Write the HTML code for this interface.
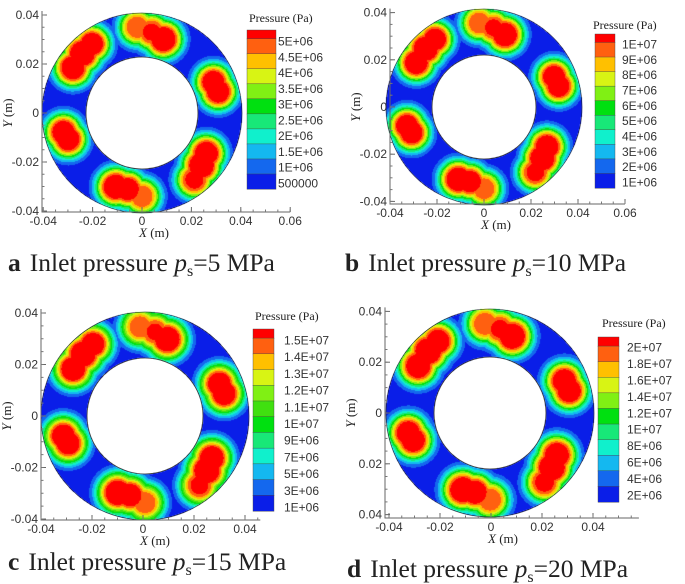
<!DOCTYPE html>
<html><head><meta charset="utf-8">
<style>
html,body{margin:0;padding:0;background:#fff;}
#root{position:relative;width:685px;height:584px;overflow:hidden;}
canvas{position:absolute;}
svg{position:absolute;left:0;top:0;}
.t{font-family:"Liberation Sans",Arial,sans-serif;font-size:12px;fill:#333;}
.s{font-family:"Liberation Serif",serif;fill:#222;}
</style></head>
<body>
<div id="root">
<svg id="ov" width="685" height="584"></svg>
</div>
<script>
// ---- data ----
const padX = [-0.029,-0.025,-0.021,-0.002,0.004,0.009,0.032,0.030,0.027,0.025,0.022,-0.011,-0.006,0.000,-0.033,-0.031];
const padY = [0.019,0.025,0.029,0.036,0.034,0.031,0.009,0.013,-0.017,-0.022,-0.028,-0.031,-0.032,-0.035,-0.008,-0.011];
const padR = [0.0032,0.0035,0.0030,0.0030,0.0030,0.0034,0.0030,0.0030,0.0032,0.0035,0.0030,0.0034,0.0030,0.0030,0.0030,0.0030];
const padA = [1.0,1.0,1.0,0.88,0.92,1.0,1.0,1.0,1.0,1.0,0.93,1.0,1.0,0.88,1.0,1.0];
const labelsA = ['5E+06','4.5E+06','4E+06','3.5E+06','3E+06','2.5E+06','2E+06','1.5E+06','1E+06','500000'];
const labelsB = ['1E+07','9E+06','8E+06','7E+06','6E+06','5E+06','4E+06','3E+06','2E+06','1E+06'];
const labelsC = ['1.5E+07','1.4E+07','1.3E+07','1.2E+07','1.1E+07','1E+07','9E+06','7E+06','5E+06','3E+06','1E+06'];
const labelsD = ['2E+07','1.8E+07','1.6E+07','1.4E+07','1.2E+07','1E+07','8E+06','6E+06','4E+06','2E+06'];
const colors11 = ['#0a1ee8','#1468ee','#14b8f0','#10f0cc','#18e878','#00e010','#80f014','#d8f414','#ffc000','#ff6010','#ff0000'];
const colors12 = ['#0a1ee8','#1468ee','#14b8f0','#10f0cc','#18e878','#00e010','#40e010','#80f014','#d8f414','#ffc000','#ff6010','#ff0000'];
const xTicksAB = [-0.04,-0.02,0,0.02,0.04,0.06];
const xTicksCD = [-0.04,-0.02,0,0.02,0.04];
const yTicks = [0.04,0.02,0,-0.02,-0.04];

const panels = [
 {id:'a',cx:142,cy:113,Ro:100,Ri:56,axL:42,axB:212,x0:142,xs:2470,y0:113,ys:2450,xMax:0.06,xTicks:xTicksAB,ylab:['0.04','0.02','0','-0.02','-0.04'],
  legL:247,legT:30,legW:29,legB:189,labX:278,lab1:41,labN:183,labels:labelsA,colors:colors11,titleX:249,titleY:22,
  cap:'a',capX:8,capY:271,cap2:'=5 MPa',ampScale:1},
 {id:'b',cx:484,cy:107,Ro:98,Ri:52,axL:390,axB:204,x0:484,xs:2350,y0:107,ys:2360,xMax:0.06,xTicks:xTicksAB,ylab:['0.04','0.02','0','-0.02','-0.04'],
  legL:595,legT:34,legW:20,legB:188,labX:622,lab1:44,labN:182,labels:labelsB,colors:colors11,titleX:593,titleY:29,
  cap:'b',capX:345,capY:271,cap2:'=10 MPa',ampScale:1},
 {id:'c',cx:145,cy:416,Ro:104,Ri:58,axL:41,axB:520,x0:143,xs:2550,y0:416,ys:2575,xMax:0.046,xTicks:xTicksCD,ylab:['0.04','0.02','0','-0.02','-0.04'],
  legL:253,legT:329,legW:21,legB:511,labX:284,lab1:340,labN:507,labels:labelsC,colors:colors12,titleX:255,titleY:320,
  cap:'c',capX:8,capY:570,cap2:'=15 MPa',ampScale:1},
 {id:'d',cx:490,cy:413,Ro:104,Ri:56,axL:385,axB:518,x0:491,xs:2550,y0:413,ys:2540,xMax:0.058,xTicks:xTicksCD,ylab:['0.04','0.02','0','0.02','0.04'],
  legL:598,legT:337,legW:21,legB:502,labX:627,lab1:347,labN:495,labels:labelsD,colors:colors11,titleX:602,titleY:327,
  cap:'d',capX:347,capY:577,cap2:'=20 MPa',ampScale:1}
];

const NS='http://www.w3.org/2000/svg';
const ov=document.getElementById('ov');
const root=document.getElementById('root');
function mk(tag,attrs,parent){const e=document.createElementNS(NS,tag);for(const k in attrs)e.setAttribute(k,attrs[k]);(parent||ov).appendChild(e);return e;}

function field(xm,ym){
  let p=0.03, halo=0;
  for(let i=0;i<padX.length;i++){
    const d=Math.hypot(xm-padX[i],ym-padY[i]);
    const e=Math.max(0,d-padR[i]);
    const q=e/0.0052;
    const g=padA[i]*Math.exp(-q*q);
    if(g>p)p=g;
    halo=Math.max(halo,0.13*Math.exp(-(d/0.011)*(d/0.011)));
  }
  return Math.max(p,0.03+halo);
}

panels.forEach(P=>{
  const n=P.colors.length;
  const cv=document.createElement('canvas');
  
  
  const size=2*P.Ro+2;
  cv.width=size;cv.height=size;
  cv.style.left=(P.cx-P.Ro-1)+'px';cv.style.top=(P.cy-P.Ro-1)+'px';
  root.insertBefore(cv,ov);
  const ctx=cv.getContext('2d');
  const img=ctx.createImageData(size,size);
  const rgb=P.colors.map(c=>[parseInt(c.substr(1,2),16),parseInt(c.substr(3,2),16),parseInt(c.substr(5,2),16)]);
  const scale=P.Ro/0.042;
  for(let j=0;j<size;j++)for(let i=0;i<size;i++){
    const dx=i-P.Ro-1+0.5, dy=j-P.Ro-1+0.5;
    const r=Math.hypot(dx,dy);
    if(r>P.Ro||r<P.Ri)continue;
    const p=field(dx/scale,-dy/scale)*P.ampScale;
    const k=Math.min(n-1,Math.floor(p*n));
    const o=(j*size+i)*4;
    img.data[o]=rgb[k][0];img.data[o+1]=rgb[k][1];img.data[o+2]=rgb[k][2];img.data[o+3]=255;
  }
  ctx.putImageData(img,0,0);
  const g=mk('g',{});
  
  
  mk('circle',{cx:P.cx,cy:P.cy,r:P.Ri,fill:'none',stroke:'#333','stroke-width':0.8},g);
  mk('circle',{cx:P.cx,cy:P.cy,r:P.Ro,fill:'none',stroke:'#223','stroke-width':0.6},g);
  const X=v=>P.x0+v*P.xs, Y=v=>P.y0-v*P.ys;
  const yTop=Y(0.04)-4;
  const ax=mk('path',{d:`M${P.axL},${yTop}V${P.axB}H${X(P.xMax)}`,fill:'none',stroke:'#666','stroke-width':1},g);
  
  
  P.xTicks.forEach(v=>{
    mk('line',{x1:X(v),x2:X(v),y1:P.axB,y2:P.axB-5,stroke:'#666'},g);
    const t=mk('text',{x:X(v),y:P.axB+13,'text-anchor':'middle',class:'t'},g);
    t.textContent=(v===0?'0':v.toFixed(2));
    
    
  });
  for(let v=-0.04;v<=P.xMax+1e-9;v+=0.005){mk('line',{x1:X(v),x2:X(v),y1:P.axB,y2:P.axB-2.5,stroke:'#777'},g);}
  yTicks.forEach((v,i)=>{
    mk('line',{x1:P.axL,x2:P.axL+5,y1:Y(v),y2:Y(v),stroke:'#666'},g);
    const t=mk('text',{x:P.axL-3,y:Y(v)+4,'text-anchor':'end',class:'t'},g);
    t.textContent=P.ylab[i];
    
    
  });
  for(let v=-0.04;v<=0.0401;v+=0.005){mk('line',{x1:P.axL,x2:P.axL+2.5,y1:Y(v),y2:Y(v),stroke:'#777'},g);}
  const xt=mk('text',{x:X(0)+12,y:P.axB+25,'text-anchor':'middle',class:'s','font-size':13},g);
  xt.innerHTML='<tspan font-style="italic">X</tspan> (m)';
  
  
  const yt=mk('text',{x:0,y:0,'text-anchor':'middle',class:'s','font-size':13,transform:`translate(${P.axL-30},${Y(0)}) rotate(-90)`},g);
  yt.innerHTML='<tspan font-style="italic">Y</tspan> (m)';
  
  
  const lg=mk('g',{},g);
  
  
  const tt=mk('text',{x:P.titleX,y:P.titleY,class:'s','font-size':12},lg);
  tt.textContent='Pressure (Pa)';
  
  
  const H=P.legB-P.legT, topH=H/(n-1)*0.55, binH=(H-topH)/(n-1);
  for(let k=0;k<n;k++){
    const idx=n-1-k;
    const y=k===0?P.legT:P.legT+topH+(k-1)*binH;
    const h=k===0?topH:binH;
    const r=mk('rect',{x:P.legL,y:y,width:P.legW,height:h+0.3,fill:P.colors[idx],stroke:'#444','stroke-width':0.4},lg);
    
    
  }
  const m=P.labels.length;
  P.labels.forEach((s,i)=>{
    const y=P.lab1+(P.labN-P.lab1)*i/(m-1);
    const t=mk('text',{x:P.labX,y:y+4.5,class:'t','font-size':12.5},lg);
    t.textContent=s;
    
    
  });
  const c=mk('text',{x:P.capX,y:P.capY,class:'s','font-size':25.5},g);
  c.innerHTML=`<tspan font-weight="bold">${P.cap}</tspan><tspan dx="9">Inlet pressure </tspan><tspan font-style="italic">p</tspan><tspan font-size="16" dy="5">s</tspan><tspan dy="-5">${P.cap2}</tspan>`;
  
  
});
</script>
</body></html>
